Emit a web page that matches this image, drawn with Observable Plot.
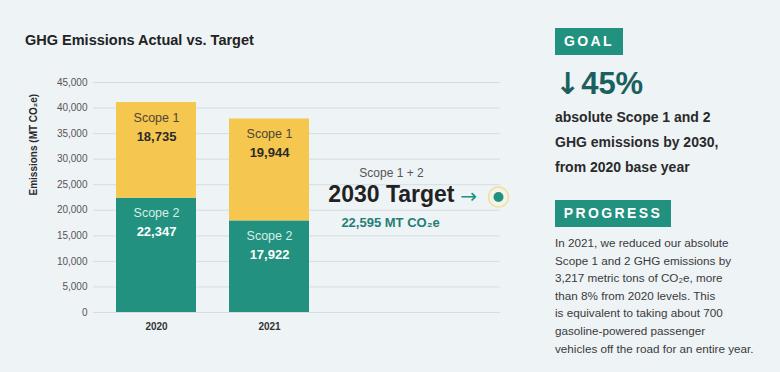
<!DOCTYPE html>
<html><head><meta charset="utf-8">
<script src="https://cdn.jsdelivr.net/npm/d3@7"></script>
<script src="https://cdn.jsdelivr.net/npm/@observablehq/plot@0.6"></script>
<style>
body{margin:0;background:#eef3f6;font-family:"Liberation Sans",Arial,sans-serif;}
#wrap{position:relative;width:780px;height:372px;overflow:hidden;background:#eef3f6;}
#title{position:absolute;left:25px;top:32px;font-size:14.5px;line-height:16px;font-weight:bold;color:#222;}
#chart{position:absolute;left:0;top:0;}
.abs{position:absolute;left:555px;}
.tag{background:#23917f;color:#fff;font-weight:bold;font-size:14px;letter-spacing:2.4px;height:27px;line-height:27px;text-align:center;}
#goal{top:28px;width:68px;}
#prog{top:200px;width:116px;}
#pct{top:67px;font-size:31px;line-height:34px;font-weight:bold;color:#1b5f5f;}
#pct .arr{font-family:"DejaVu Sans",sans-serif;font-weight:bold;font-size:30px;margin-right:1px;}
#goaltxt{top:105px;font-size:14px;line-height:25px;font-weight:bold;color:#2a2a2a;white-space:nowrap;}
#progtxt{top:234px;font-size:11.7px;line-height:17.6px;color:#3a3a3a;white-space:nowrap;}
</style></head>
<body>
<div id="wrap">
  <div id="chart"></div>
  <div id="title"></div>
  <div id="goal" class="abs tag">GOAL</div>
  <div id="pct" class="abs"><span class="arr">↓</span>45%</div>
  <div id="goaltxt" class="abs"></div>
  <div id="prog" class="abs tag">PROGRESS</div>
  <div id="progtxt" class="abs"></div>
</div>
<script>
const titleText = "GHG Emissions Actual vs. Target";
const years = ["2020", "2021"];
const scopeNames = ["Scope 2", "Scope 1"];
const scope1 = [18735, 19944];
const scope2 = [22347, 17922];
const yTicks = [0, 5000, 10000, 15000, 20000, 25000, 30000, 35000, 40000, 45000];
const yLabel = "Emissions (MT CO₂e)";
const targetTop = "Scope 1 + 2";
const targetName = "2030 Target";
const targetValue = 22595;
const targetUnit = "MT CO₂e";
const goalLines = ["absolute Scope 1 and 2", "GHG emissions by 2030,", "from 2020 base year"];
const progressLines = [
  "In 2021, we reduced our absolute",
  "Scope 1 and 2 GHG emissions by",
  "3,217 metric tons of CO₂e, more",
  "than 8% from 2020 levels. This",
  "is equivalent to taking about 700",
  "gasoline-powered passenger",
  "vehicles off the road for an entire year."
];

const fmt = d3.format(",");
const teal = "#22917f";
const yellow = "#f6c74f";

const rows = [];
years.forEach((yr, i) => {
  rows.push({year: yr, scope: scopeNames[0], value: scope2[i]});
  rows.push({year: yr, scope: scopeNames[1], value: scope1[i]});
});
const target = [{label: targetName, value: targetValue}];

document.getElementById("title").textContent = titleText;
document.getElementById("goaltxt").innerHTML = goalLines.join("<br>");
document.getElementById("progtxt").innerHTML = progressLines.join("<br>");

const stackOpts = {x: "year", y: "value", order: null};
const tgt = {y: "value", frameAnchor: "right"};

const chart = Plot.plot({
  width: 780,
  height: 372,
  marginTop: 82,
  marginBottom: 60,
  marginLeft: 93,
  marginRight: 280,
  style: {background: "transparent", fontFamily: "'Liberation Sans', Arial, sans-serif"},
  x: {domain: years, range: [93, 332], paddingInner: 0.295, paddingOuter: 0.2, label: null},
  y: {domain: [0, 45000], label: null},
  color: {domain: scopeNames, range: [teal, yellow]},
  marks: [
    Plot.gridY(yTicks, {stroke: "#d5dde2", strokeOpacity: 1, strokeWidth: 1}),
    Plot.axisY(yTicks, {tickFormat: fmt, tickSize: 0, tickPadding: 6, fontSize: 10, fill: "#555", label: null}),
    Plot.axisX({tickSize: 0, tickPadding: 10, fontSize: 10, fontWeight: "bold", fill: "#333", label: null}),
    Plot.text([yLabel], {frameAnchor: "left", rotate: -90, dx: -60, dy: -2, fontSize: 10, fontWeight: "bold", fill: "#2a2a2a"}),
    Plot.barY(rows, Plot.stackY({...stackOpts, fill: "scope"})),
    Plot.text(rows, Plot.stackY2({...stackOpts, text: "scope", dy: 15, fontSize: 12.5,
      fill: d => d.scope === "Scope 1" ? "#4d4636" : "#d8efe9"})),
    Plot.text(rows, Plot.stackY2({...stackOpts, text: d => fmt(d.value), dy: 34, fontSize: 13, fontWeight: "bold",
      fill: d => d.scope === "Scope 1" ? "#2a2a2a" : "#ffffff"})),
    Plot.dot(target, {...tgt, dx: -2, r: 10, fill: "#f4f3e8", stroke: "#efe0a0", strokeWidth: 1.5}),
    Plot.dot(target, {...tgt, dx: -2, r: 5, fill: teal}),
    Plot.text(target, {...tgt, text: () => "→", textAnchor: "middle", dx: -32, dy: 0, fontSize: 20, fontFamily: "'DejaVu Sans', sans-serif", fill: teal}),
    Plot.text(target, {...tgt, text: "label", textAnchor: "end", dx: -46, dy: -2, fontSize: 23, fontWeight: "bold", fill: "#222", letterSpacing: "-0.3px"}),
    Plot.text(target, {...tgt, text: () => targetTop, textAnchor: "middle", dx: -109, dy: -24, fontSize: 12, fill: "#555"}),
    Plot.text(target, {...tgt, text: d => fmt(d.value) + " " + targetUnit, textAnchor: "middle", dx: -110, dy: 26, fontSize: 13, fontWeight: "bold", fill: "#1e7f77"})
  ]
});
document.getElementById("chart").appendChild(chart);
</script>
</body></html>
